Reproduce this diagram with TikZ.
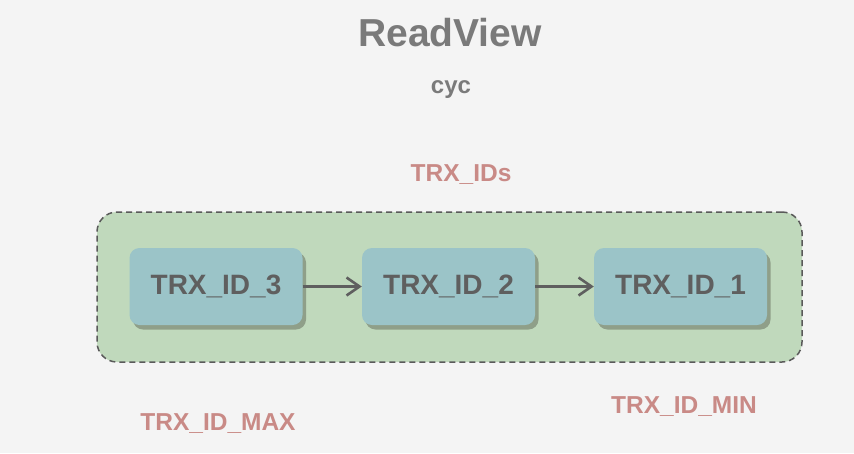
\documentclass[tikz,border=0pt]{standalone}
\usepackage{fontspec}
\setmainfont{Liberation Sans}
\usetikzlibrary{arrows.meta}
\definecolor{bgc}{HTML}{F4F4F4}
\definecolor{titlec}{HTML}{7A7A7A}
\definecolor{labelc}{HTML}{C98A86}
\definecolor{groupc}{HTML}{C0D9BC}
\definecolor{boxc}{HTML}{9BC4C8}
\definecolor{shadowc}{HTML}{8F9F89}
\definecolor{textc}{HTML}{5F5F5F}
\definecolor{linec}{HTML}{5A5A5A}
\tikzset{
  idbox/.style={draw=none, fill=boxc, rounded corners=10pt,
    minimum width=173pt, minimum height=77pt, inner sep=0pt,
    font=\fontsize{28}{32}\selectfont\bfseries, text=textc},
  idshadow/.style={fill=shadowc, rounded corners=10pt},
  redlabel/.style={font=\fontsize{24.5}{28}\selectfont\bfseries, text=labelc},
  linkarrow/.style={draw=textc, line width=2.6pt,
    -{Straight Barb[length=13pt,width=18pt,line width=2.6pt]}}
}
\begin{document}
\begin{tikzpicture}[x=1pt,y=-1pt]
\useasboundingbox (0,0) rectangle (854,453);
\fill[bgc] (0,0) rectangle (854,453);

\node[font=\fontsize{39}{44}\selectfont\bfseries, text=titlec] (title) at (450,33) {ReadView};
\node[font=\fontsize{24}{28}\selectfont\bfseries, text=titlec] (author) at (451,90) {cyc};
\node[redlabel] (ids) at (461,175) {TRX\_IDs};

% dashed group holding the id list
\node[draw=linec, dash pattern=on 6pt off 4pt, line width=1.5pt, fill=groupc, rounded corners=20pt,
  minimum width=705pt, minimum height=150pt] (group) at (449.5,287) {};

% drop shadows of the id boxes
\foreach \cx in {216,448.5,680.5}
  \fill[idshadow] (\cx-86.5+3.5,248+4.5) rectangle (\cx+86.5+3.5,325+4.5);

\node[idbox] (id3) at (216,286.5) {TRX\_ID\_3};
\node[idbox] (id2) at (448.5,286.5) {TRX\_ID\_2};
\node[idbox] (id1) at (680.5,286.5) {TRX\_ID\_1};

\draw[linkarrow] (id3.east) -- (id2.west);
\draw[linkarrow] (id2.east) -- (id1.west);

\node[redlabel] (max) at (218,424) {TRX\_ID\_MAX};
\node[redlabel] (min) at (684,407) {TRX\_ID\_MIN};
\end{tikzpicture}
\end{document}
